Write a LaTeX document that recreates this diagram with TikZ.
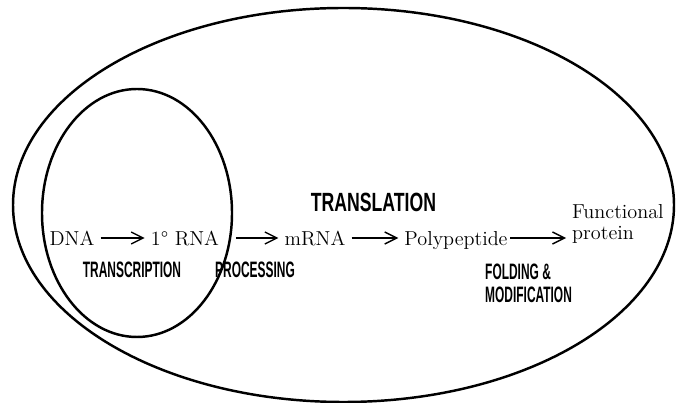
\documentclass[tikz,border=0pt]{standalone}
\usepackage{fontspec}
\usepackage{tikz}
\usetikzlibrary{arrows.meta}
\newfontfamily\labelfont{Liberation Sans}
\newcommand{\condtext}[1]{\scalebox{0.535}[1]{#1}}

\begin{document}
\begin{tikzpicture}[>={Straight Barb[length=2.4mm,width=2.4mm]},
  molecule/.style={font=\fontsize{11.5}{12}\selectfont,text height=8pt,text depth=0pt},
  process/.style={font=\labelfont\bfseries\fontsize{12.7}{13}\selectfont,align=left},
  ring/.style={line width=1.4pt}]
\useasboundingbox (0,0) rectangle (13.66,8.06);
% whole gene expression, transcription inside it
\draw[ring] (6.87,3.96) ellipse [x radius=6.61,y radius=3.94];
\draw[ring] (2.74,3.80) ellipse [x radius=1.90,y radius=2.48];
\node[molecule] (dna) at (1.44,3.30) {DNA};
\node[molecule] (rna) at (3.70,3.30) {1° RNA};
\node[molecule] (mrna) at (6.30,3.30) {mRNA};
\node[molecule] (pp) at (9.12,3.30) {Polypeptide};
\node[font=\fontsize{11.5}{12}\selectfont,align=left,anchor=base west] (fp) at (11.32,3.26) {Functional\\protein};
\node[font=\labelfont\bfseries\fontsize{15}{16}\selectfont] (translation) at (7.47,4.01) {\scalebox{0.67}[1]{TRANSLATION}};
\node[process] (transcription) at (2.64,2.66) {\condtext{TRANSCRIPTION}};
\node[process] (processing) at (5.10,2.66) {\condtext{PROCESSING}};
\node[process,anchor=west] (folding) at (9.58,2.40) {\condtext{FOLDING \&}\\\condtext{MODIFICATION}};
\draw[->,line width=0.8pt] (dna) -- (rna);
\draw[->,line width=0.8pt,shorten <=6pt] (rna) -- (mrna);
\draw[->,line width=0.8pt] (mrna) -- (pp);
\draw[->,line width=0.8pt,shorten <=-2pt] (pp) -- (pp -| fp.west);
\end{tikzpicture}
\end{document}
